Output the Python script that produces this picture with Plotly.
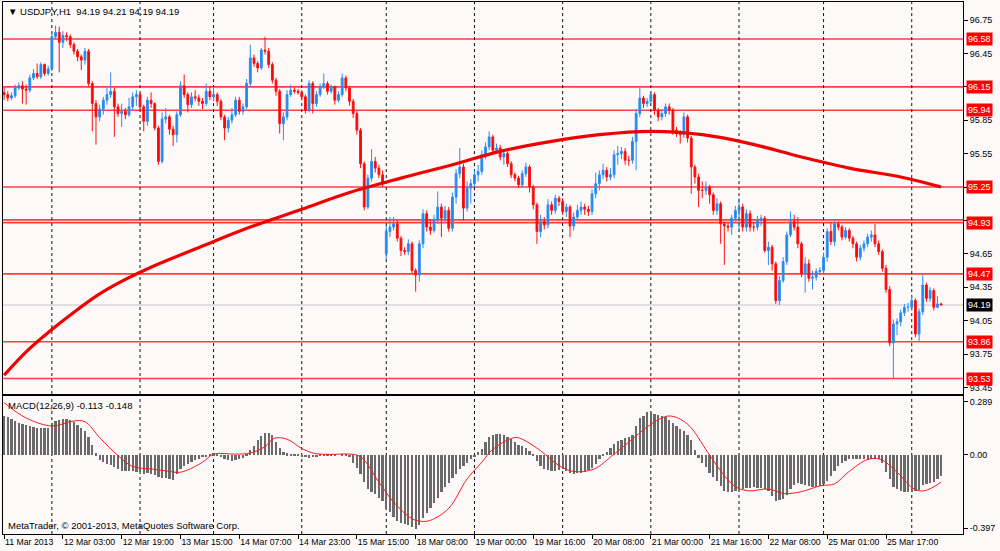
import plotly.graph_objects as go
from plotly.subplots import make_subplots

# USDJPY H1, 256 bars from 11 Mar 2013 11:00
closes = [
    96.08, 96.05, 96.07, 96.14, 96.16, 96.13, 96.12, 96.23, 96.27, 96.24,
    96.35, 96.27, 96.31, 96.60, 96.64, 96.55, 96.61, 96.60, 96.53, 96.47,
    96.42, 96.39, 96.47, 96.18, 96.00, 95.88, 95.95, 96.03, 96.08, 96.11,
    95.97, 95.91, 95.93, 95.90, 95.97, 96.06, 96.08, 95.97, 95.84, 96.03,
    96.00, 95.78, 95.48, 95.86, 95.88, 95.77, 95.72, 95.90, 96.16, 96.08,
    95.99, 96.06, 96.05, 96.02, 96.00, 96.11, 96.06, 96.08, 96.02, 95.88,
    95.78, 95.85, 95.90, 96.03, 95.93, 95.97, 96.18, 96.41, 96.36, 96.32,
    96.48, 96.47, 96.35, 96.21, 96.11, 95.82, 95.88, 96.08, 96.12, 96.11,
    96.10, 96.06, 95.94, 96.18, 96.00, 96.08, 96.15, 96.18, 96.11, 96.15,
    96.03, 96.08, 96.23, 96.14, 96.02, 95.91, 95.76, 95.46, 95.07, 95.33,
    95.48, 95.42, 95.36, 95.28, 94.85, 94.89, 94.92, 94.79, 94.68, 94.67,
    94.74, 94.50, 94.46, 94.74, 95.01, 94.89, 94.86, 94.96, 95.07, 94.97,
    95.04, 94.88, 95.16, 95.37, 95.43, 95.06, 95.24, 95.28, 95.36, 95.39,
    95.54, 95.61, 95.70, 95.58, 95.60, 95.52, 95.55, 95.46, 95.36, 95.33,
    95.27, 95.37, 95.43, 95.25, 95.09, 94.85, 94.94, 94.91, 95.09, 95.04,
    95.15, 95.12, 95.03, 95.07, 94.90, 94.98, 95.04, 95.07, 95.05, 95.03,
    95.19, 95.28, 95.36, 95.40, 95.34, 95.36, 95.54, 95.55, 95.57, 95.49,
    95.49, 95.66, 95.91, 96.05, 96.00, 96.02, 96.08, 95.94, 95.88, 95.91,
    95.97, 95.94, 95.76, 95.73, 95.72, 95.88, 95.69, 95.43, 95.34, 95.22,
    95.22, 95.25, 95.18, 95.04, 95.10, 94.92, 94.90, 94.89, 94.97, 95.04,
    95.07, 94.89, 95.01, 94.89, 94.89, 94.95, 94.97, 94.68, 94.71, 94.56,
    94.23, 94.41, 94.58, 94.82, 94.94, 94.89, 94.74, 94.47, 94.56, 94.43,
    94.44, 94.49, 94.50, 94.62, 94.85, 94.76, 94.92, 94.89, 94.80, 94.86,
    94.79, 94.74, 94.62, 94.70, 94.74, 94.80, 94.82, 94.74, 94.67, 94.52,
    94.33, 93.85, 94.02, 94.04, 94.12, 94.17, 94.17, 94.23, 93.93, 94.13,
    94.37, 94.25, 94.32, 94.17, 94.20, 94.19,
]
highs = [
    96.14, 96.11, 96.10, 96.17, 96.19, 96.20, 96.17, 96.26, 96.31, 96.36,
    96.37, 96.36, 96.34, 96.63, 96.70, 96.69, 96.65, 96.64, 96.62, 96.55,
    96.49, 96.44, 96.50, 96.49, 96.20, 96.03, 95.99, 96.06, 96.14, 96.28,
    96.14, 96.00, 96.00, 95.96, 96.05, 96.10, 96.12, 96.10, 95.99, 96.06,
    96.10, 96.01, 95.80, 95.92, 95.96, 95.90, 95.80, 95.93, 96.20, 96.26,
    96.10, 96.10, 96.12, 96.08, 96.05, 96.18, 96.16, 96.15, 96.10, 96.04,
    95.90, 95.88, 95.96, 96.06, 96.06, 96.00, 96.22, 96.53, 96.44, 96.38,
    96.50, 96.60, 96.50, 96.37, 96.23, 96.13, 95.92, 96.12, 96.17, 96.14,
    96.13, 96.12, 96.08, 96.21, 96.20, 96.11, 96.18, 96.27, 96.20, 96.17,
    96.16, 96.11, 96.27, 96.25, 96.16, 96.04, 95.93, 95.78, 95.48, 95.36,
    95.59, 95.52, 95.45, 95.40, 94.90, 94.98, 94.98, 94.95, 94.81, 94.71,
    94.78, 94.76, 94.52, 94.77, 95.05, 95.04, 94.96, 95.00, 95.21, 95.10,
    95.08, 95.07, 95.20, 95.41, 95.60, 95.46, 95.30, 95.32, 95.40, 95.45,
    95.58, 95.65, 95.75, 95.72, 95.64, 95.63, 95.58, 95.57, 95.48, 95.38,
    95.35, 95.40, 95.47, 95.45, 95.27, 95.11, 95.00, 94.98, 95.14, 95.12,
    95.18, 95.17, 95.15, 95.10, 95.09, 95.02, 95.09, 95.12, 95.10, 95.08,
    95.23, 95.38, 95.40, 95.46, 95.43, 95.42, 95.58, 95.62, 95.61, 95.60,
    95.53, 95.70, 95.95, 96.14, 96.07, 96.05, 96.11, 96.10, 95.96, 95.95,
    96.00, 96.00, 95.96, 95.79, 95.76, 95.92, 95.90, 95.71, 95.45, 95.37,
    95.30, 95.30, 95.27, 95.20, 95.15, 95.12, 94.94, 94.93, 95.00, 95.08,
    95.15, 95.10, 95.05, 95.04, 94.93, 94.99, 95.00, 94.99, 94.76, 94.73,
    94.58, 94.45, 94.62, 94.85, 95.03, 95.00, 94.98, 94.76, 94.62, 94.60,
    94.50, 94.52, 94.53, 94.66, 94.88, 94.93, 94.95, 94.94, 94.91, 94.89,
    94.88, 94.81, 94.76, 94.73, 94.77, 94.83, 94.86, 94.92, 94.77, 94.69,
    94.55, 94.36, 94.06, 94.07, 94.15, 94.20, 94.21, 94.27, 94.25, 94.16,
    94.46, 94.39, 94.35, 94.34, 94.27, 94.21,
]
lows = [
    96.03, 96.02, 96.03, 96.05, 96.12, 96.00, 95.99, 96.10, 96.21, 96.22,
    96.22, 96.25, 96.25, 96.29, 96.58, 96.28, 96.50, 96.56, 96.50, 96.44,
    96.38, 96.30, 96.35, 96.15, 95.75, 95.63, 95.84, 95.90, 95.99, 96.05,
    95.70, 95.88, 95.79, 95.86, 95.88, 95.94, 95.98, 95.93, 95.75, 95.80,
    95.96, 95.76, 95.45, 95.46, 95.82, 95.72, 95.62, 95.65, 95.88, 96.05,
    95.92, 95.96, 96.02, 95.98, 95.95, 95.98, 96.03, 96.02, 95.98, 95.85,
    95.67, 95.74, 95.82, 95.88, 95.90, 95.90, 95.95, 96.15, 96.33, 96.28,
    96.30, 96.44, 96.32, 96.18, 96.07, 95.73, 95.67, 95.85, 96.06, 96.09,
    96.08, 96.03, 95.91, 95.92, 95.91, 95.97, 96.06, 96.13, 96.08, 96.09,
    95.99, 96.01, 96.06, 96.11, 95.98, 95.87, 95.72, 95.42, 95.04, 95.05,
    95.30, 95.38, 95.33, 95.25, 94.60, 94.80, 94.86, 94.76, 94.63, 94.64,
    94.64, 94.47, 94.31, 94.40, 94.70, 94.85, 94.82, 94.84, 94.92, 94.80,
    94.93, 94.85, 94.85, 95.10, 95.33, 94.95, 95.03, 95.10, 95.25, 95.30,
    95.36, 95.50, 95.58, 95.55, 95.55, 95.49, 95.45, 95.43, 95.33, 95.30,
    95.24, 95.24, 95.34, 95.20, 95.05, 94.74, 94.80, 94.87, 94.88, 95.00,
    95.01, 95.08, 95.00, 94.98, 94.80, 94.86, 94.95, 95.00, 95.00, 94.99,
    95.00, 95.15, 95.22, 95.32, 95.30, 95.31, 95.33, 95.45, 95.50, 95.45,
    95.44, 95.46, 95.40, 95.88, 95.96, 95.97, 96.00, 95.90, 95.84, 95.85,
    95.88, 95.90, 95.72, 95.70, 95.64, 95.69, 95.65, 95.19, 95.28, 95.07,
    95.15, 95.18, 95.10, 95.00, 95.00, 94.74, 94.55, 94.85, 94.82, 94.94,
    94.85, 94.85, 94.85, 94.85, 94.85, 94.86, 94.90, 94.66, 94.55, 94.50,
    94.20, 94.19, 94.39, 94.55, 94.80, 94.86, 94.70, 94.44, 94.30, 94.40,
    94.33, 94.41, 94.46, 94.47, 94.58, 94.73, 94.72, 94.86, 94.77, 94.78,
    94.76, 94.70, 94.58, 94.59, 94.67, 94.71, 94.76, 94.71, 94.64, 94.49,
    94.30, 93.82, 93.53, 93.92, 94.00, 94.09, 94.13, 94.14, 93.90, 93.86,
    94.10, 94.22, 94.22, 94.14, 94.16, 94.19,
]
first_open = 96.10
gap_opens = {104: 94.65}  # Monday open after the weekend gap

# thick red moving average, read at a few bars
ma_bars = [0, 6, 13, 20, 26, 33, 40, 54, 67, 81, 94, 108, 122, 135, 149, 162, 176, 190, 203, 217, 230, 244, 255]
ma_vals = [93.56, 93.77, 93.97, 94.15, 94.29, 94.42, 94.53, 94.72, 94.89, 95.05, 95.20, 95.33, 95.45,
           95.57, 95.66, 95.72, 95.75, 95.72, 95.64, 95.52, 95.42, 95.34, 95.25]

levels = [96.58, 96.15, 95.94, 95.25, 94.955, 94.93, 94.47, 93.86, 93.53]
level_labels = ['96.58', '96.15', '95.94', '95.25', None, '94.93', '94.47', '93.86', '93.53']
last_price = 94.19

macd_hist = [
    0.215, 0.205, 0.195, 0.185, 0.175, 0.170, 0.165, 0.160, 0.155, 0.150,
    0.148, 0.148, 0.150, 0.175, 0.185, 0.190, 0.195, 0.198, 0.192, 0.180,
    0.165, 0.150, 0.130, 0.100, 0.055, 0.010, -0.025, -0.035, -0.045, -0.055,
    -0.062, -0.075, -0.085, -0.088, -0.088, -0.085, -0.090, -0.092, -0.100, -0.095,
    -0.100, -0.110, -0.120, -0.125, -0.125, -0.130, -0.132, -0.100, -0.074, -0.060,
    -0.045, -0.035, -0.025, -0.018, -0.012, -0.006, 0.005, 0.010, 0.002, -0.012,
    -0.020, -0.025, -0.030, -0.025, -0.020, -0.015, 0.005, 0.030, 0.050, 0.085,
    0.105, 0.120, 0.120, 0.110, 0.070, 0.040, 0.020, 0.010, 0.005, 0.005,
    0.002, -0.005, -0.012, -0.015, -0.010, -0.005, 0.002, 0.005, 0.005, 0.003,
    0.002, 0.000, 0.004, 0.003, -0.010, -0.040, -0.070, -0.100, -0.145, -0.185,
    -0.200, -0.210, -0.230, -0.250, -0.290, -0.310, -0.335, -0.355, -0.365, -0.375,
    -0.380, -0.390, -0.400, -0.380, -0.340, -0.315, -0.285, -0.260, -0.230, -0.200,
    -0.175, -0.150, -0.125, -0.100, -0.075, -0.060, -0.040, -0.020, -0.005, 0.015,
    0.035, 0.070, 0.100, 0.110, 0.115, 0.115, 0.110, 0.100, 0.086, 0.070,
    0.053, 0.048, 0.040, 0.025, 0.004, -0.030, -0.060, -0.077, -0.082, -0.086,
    -0.085, -0.080, -0.077, -0.085, -0.095, -0.100, -0.098, -0.095, -0.090, -0.080,
    -0.068, -0.045, -0.022, 0.004, 0.020, 0.040, 0.060, 0.076, 0.085, 0.094,
    0.100, 0.110, 0.157, 0.200, 0.215, 0.232, 0.232, 0.225, 0.220, 0.212,
    0.205, 0.190, 0.175, 0.160, 0.140, 0.130, 0.110, 0.080, 0.030, -0.015,
    -0.040, -0.065, -0.097, -0.120, -0.140, -0.165, -0.195, -0.200, -0.200, -0.195,
    -0.190, -0.185, -0.180, -0.178, -0.175, -0.178, -0.180, -0.185, -0.195, -0.220,
    -0.250, -0.245, -0.240, -0.215, -0.185, -0.160, -0.150, -0.157, -0.160, -0.168,
    -0.175, -0.170, -0.167, -0.155, -0.140, -0.115, -0.086, -0.060, -0.040, -0.030,
    -0.020, -0.018, -0.020, -0.020, -0.022, -0.025, -0.022, -0.020, -0.020, -0.040,
    -0.090, -0.130, -0.175, -0.185, -0.195, -0.198, -0.200, -0.200, -0.195, -0.190,
    -0.160, -0.155, -0.150, -0.145, -0.130, -0.113,
]
signal_bars = [0, 6, 13, 19, 22, 26, 31, 35, 40, 44.5, 48, 54, 57, 63, 67, 71, 73.5, 77, 81, 84.5,
               90, 93.5, 97, 102, 106, 111, 113.5, 116, 121, 126, 130, 133, 139, 141.5, 146, 151,
               155, 160.5, 166, 171.5, 176, 181, 186, 191.5, 195, 198.6, 202.4, 208, 212.3, 216.8,
               222.3, 226, 229.7, 235, 238.6, 243, 247.7, 250.4, 255]
signal_vals = [0.283, 0.200, 0.157, 0.184, 0.180, 0.094, -0.004, -0.063, -0.076, -0.088, -0.094, -0.040,
               0.004, 0.004, 0.010, 0.045, 0.090, 0.085, 0.035, 0.008, 0.003, 0.005, -0.010, -0.148,
               -0.256, -0.346, -0.360, -0.355, -0.290, -0.130, -0.040, 0.030, 0.094, 0.080, 0.022,
               -0.058, -0.090, -0.077, 0.004, 0.094, 0.166, 0.211, 0.166, 0.013, -0.086, -0.167,
               -0.195, -0.185, -0.210, -0.200, -0.167, -0.157, -0.094, -0.025, -0.025, -0.094,
               -0.185, -0.195, -0.148]

day_starts = [13, 37, 57, 81, 104, 128, 152, 176, 200, 223, 247]
time_ticks = [0, 16, 32, 48, 64, 80, 96, 112, 128, 144, 160, 176, 192, 208, 224, 240]
time_labels = ['11 Mar 2013', '12 Mar 03:00', '12 Mar 19:00', '13 Mar 15:00', '14 Mar 07:00',
               '14 Mar 23:00', '15 Mar 15:00', '18 Mar 08:00', '19 Mar 00:00', '19 Mar 16:00',
               '20 Mar 08:00', '21 Mar 00:00', '21 Mar 16:00', '22 Mar 08:00', '25 Mar 01:00',
               '25 Mar 17:00']
price_ticks = [96.75, 96.45, 96.15, 95.85, 95.55, 95.25, 94.95, 94.65, 94.35, 94.05, 93.75, 93.45]
price_tick_text = ['96.75', '96.45', '96.15', '95.85', '95.55', '95.25', '', '94.65', '94.35',
                   '94.05', '93.75', '93.45']

bars = list(range(len(closes)))
opens = [first_open] + closes[:-1]
for i, v in gap_opens.items():
    opens[i] = v

FONT = 'Liberation Sans'
BG = '#fdf9f9'
FS = 9

fig = make_subplots(rows=2, cols=1, shared_xaxes=True, vertical_spacing=0.003,
                    row_heights=[0.737, 0.263])

fig.add_trace(go.Candlestick(
    x=bars, open=opens, high=highs, low=lows, close=closes,
    increasing=dict(line=dict(color='#2b8cf0', width=1), fillcolor='#1e88f0'),
    decreasing=dict(line=dict(color='#ff1010', width=1), fillcolor='#ff0000'),
    whiskerwidth=0, hoverinfo='skip', showlegend=False), row=1, col=1)

fig.add_trace(go.Scatter(x=ma_bars, y=ma_vals, mode='lines',
                         line=dict(color='#f00000', width=3.2, shape='spline', smoothing=1.0),
                         hoverinfo='skip', showlegend=False), row=1, col=1)

fig.add_trace(go.Bar(x=bars, y=macd_hist, width=0.62, marker=dict(color='#6a6a6a', line=dict(width=0)),
                     hoverinfo='skip', showlegend=False), row=2, col=1)

fig.add_trace(go.Scatter(x=signal_bars, y=signal_vals, mode='lines',
                         line=dict(color='#ff1a1a', width=1, shape='spline', smoothing=1.0),
                         hoverinfo='skip', showlegend=False), row=2, col=1)

# horizontal levels
for lv in levels:
    fig.add_shape(type='line', xref='x domain', x0=0, x1=1, yref='y', y0=lv, y1=lv,
                  line=dict(color='rgba(255,30,30,0.85)', width=1.6), layer='below')
fig.add_shape(type='line', xref='x domain', x0=0, x1=1, yref='y', y0=last_price, y1=last_price,
              line=dict(color='#c4c4c4', width=1), layer='below')

# day separators through both panels
for d in day_starts:
    for yr in ['y domain', 'y2 domain']:
        fig.add_shape(type='line', xref='x', x0=d, x1=d, yref=yr, y0=0, y1=1,
                      line=dict(color='#111111', width=1, dash='3px,3px'), layer='below')

# price labels on the right axis
for lv, lab in zip(levels, level_labels):
    if lab is None:
        continue
    fig.add_annotation(xref='paper', x=1, xanchor='left', xshift=3, yref='y', y=lv,
                       text=lab, showarrow=False, bgcolor='#ff0000', borderpad=1,
                       font=dict(family=FONT, size=FS, color='white'))
fig.add_annotation(xref='paper', x=1, xanchor='left', xshift=3, yref='y', y=last_price,
                   text='94.19', showarrow=False, bgcolor='#000000', borderpad=1,
                   font=dict(family=FONT, size=FS, color='white'))

fig.add_annotation(xref='x domain', x=0, xanchor='left', xshift=3, yref='y domain', y=1,
                   yanchor='top', yshift=-2, text='▼ USDJPY,H1  94.19 94.21 94.19 94.19',
                   showarrow=False, font=dict(family=FONT, size=9.5, color='black'))
fig.add_annotation(xref='x2 domain', x=0, xanchor='left', xshift=3, yref='y2 domain', y=1,
                   yanchor='top', yshift=-2, text='MACD(12,26,9) -0.113 -0.148',
                   showarrow=False, font=dict(family=FONT, size=9.5, color='black'))
fig.add_annotation(xref='x2 domain', x=0, xanchor='left', xshift=3, yref='y2 domain', y=0,
                   yanchor='bottom', yshift=1, text='MetaTrader, © 2001-2013, MetaQuotes Software Corp.',
                   showarrow=False, font=dict(family=FONT, size=9.5, color='black'))

axis_common = dict(showline=True, linecolor='black', linewidth=1, mirror=True,
                   showgrid=False, zeroline=False)

fig.update_xaxes(range=[-0.3, 260.95], **axis_common)
fig.update_xaxes(row=1, col=1, showticklabels=False, ticks='', rangeslider=dict(visible=False))
fig.update_xaxes(row=2, col=1, tickmode='array', tickvals=time_ticks, ticktext=time_labels,
                 tickangle=0, ticks='outside', ticklen=4, tickcolor='black',
                 ticklabelposition='outside right',
                 tickfont=dict(family=FONT, size=8.7, color='black'))

fig.update_yaxes(row=1, col=1, side='right', range=[93.39, 96.912], tickmode='array',
                 tickvals=price_ticks, ticktext=price_tick_text, ticks='outside', ticklen=4,
                 tickcolor='black', tickfont=dict(family=FONT, size=FS, color='black'), **axis_common)
fig.update_yaxes(row=2, col=1, side='right', range=[-0.429, 0.321], tickmode='array',
                 tickvals=[0.289, 0.0, -0.397], ticktext=['0.289', '0.00', '-0.397'],
                 ticks='outside', ticklen=4, tickcolor='black',
                 tickfont=dict(family=FONT, size=FS, color='black'), **axis_common)

fig.update_layout(width=1000, height=551, margin=dict(l=3, r=37, t=2, b=17),
                  paper_bgcolor=BG, plot_bgcolor=BG, bargap=0, showlegend=False)
fig.update_layout(yaxis=dict(domain=[0.263, 1.0]), yaxis2=dict(domain=[0.0, 0.26]))

fig.write_html('out.html', config={'displayModeBar': False},
               post_script="document.body.style.margin='0px';")
